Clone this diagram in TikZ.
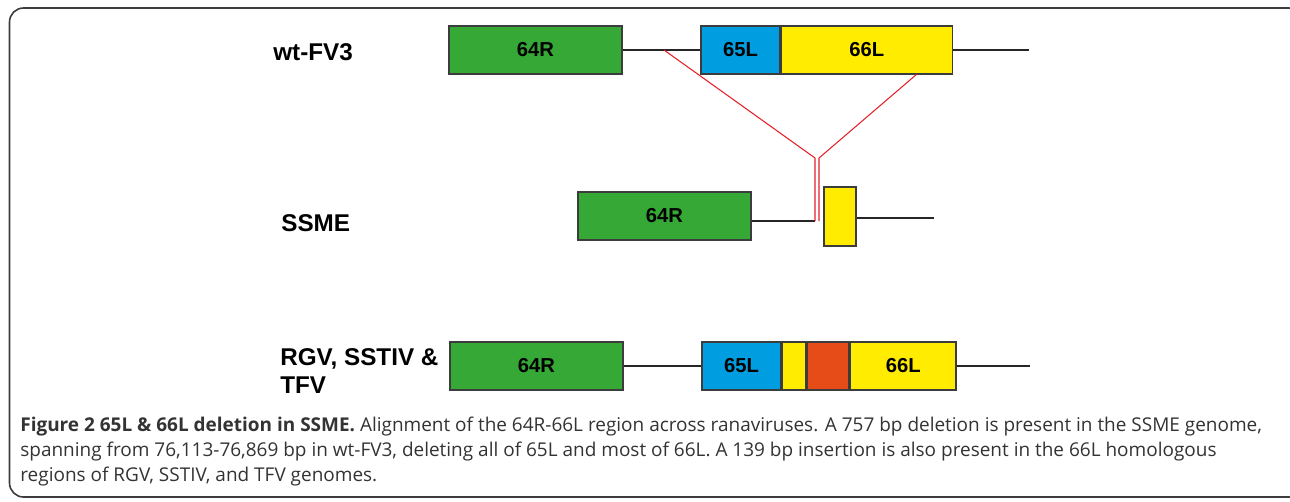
\documentclass[tikz,border=0pt]{standalone}
\usepackage{fontspec}
\setmainfont{Open Sans}
\newfontfamily\labelfont{Liberation Sans}
\usetikzlibrary{positioning}
\definecolor{genegreen}{RGB}{53,168,53}
\definecolor{geneblue}{RGB}{0,158,224}
\definecolor{geneyellow}{RGB}{255,236,0}
\definecolor{geneorange}{RGB}{230,76,24}
\definecolor{cutred}{RGB}{228,30,38}
\definecolor{edgegray}{RGB}{60,60,60}
\tikzset{
    gene/.style={draw=edgegray, line width=0.8pt, inner sep=0pt, minimum height=0.96cm,
        font=\labelfont\bfseries\fontsize{11.5}{13}\selectfont},
    strand/.style={draw=black!85, line width=0.7pt},
    cut/.style={draw=cutred, line width=0.6pt},
    rowlabel/.style={inner sep=0pt, anchor=base west,
        font=\labelfont\bfseries\fontsize{13.8}{15.9}\selectfont}
}

\begin{document}
\begin{tikzpicture}[x=0.02cm, y=-0.02cm]
        \useasboundingbox (0,0) rectangle (1290,501);
        % outer frame
        \draw[edgegray, line width=0.9pt, rounded corners=8pt] (9.5,8) rectangle (1303,497);
        % wt-FV3 row
        \node[rowlabel] (wtlab) at (273,60) {wt-FV3};
        \node[gene, fill=genegreen, minimum width=3.46cm] (wt64) at (535.5,50) {64R};
        \node[gene, fill=geneblue, minimum width=1.58cm] (wt65) at (740.5,50) {65L};
        \node[gene, fill=geneyellow, minimum width=3.42cm, right=0pt of wt65] (wt66) {66L};
        \coordinate (wtend) at (1029,50);
        \draw[strand] (wt64) -- (wt65);
        \draw[strand] (wt66) -- (wtend);
        % SSME row
        \node[rowlabel] (sslab) at (281,231) {SSME};
        \node[gene, fill=genegreen, minimum width=3.46cm] (ss64) at (664.5,216) {64R};
        \node[gene, fill=geneyellow, minimum width=0.64cm, minimum height=1.18cm] (ss66) at (840,216.5) {};
        \coordinate (footL) at (815,221);
        \coordinate (footR) at (819,221);
        \coordinate (ssend) at (934,218);
        \draw[strand] (ss64.east |- footL) -- (footL);
        \draw[strand] (ss66.east |- ssend) -- (ssend);
        % deleted region, 76,113-76,869 bp
        \coordinate (cutA) at (664,50);
        \coordinate (cutB) at (917,74);
        \coordinate (joinL) at (815,158);
        \coordinate (joinR) at (819,158);
        \draw[cut] (cutA) -- (joinL) -- (footL);
        \draw[cut] (cutB) -- (joinR) -- (footR);
        % RGV, SSTIV & TFV row (base = last line)
        \node[rowlabel, align=left] (rglab) at (280,393) {RGV, SSTIV \&\\TFV};
        \node[gene, fill=genegreen, minimum width=3.46cm] (rg64) at (536.5,366) {64R};
        \node[gene, fill=geneblue, minimum width=1.58cm] (rg65) at (741.5,366) {65L};
        \node[gene, fill=geneyellow, minimum width=0.46cm, right=0pt of rg65] (rgpre) {};
        \node[gene, fill=geneorange, minimum width=0.84cm, right=0pt of rgpre] (rgins) {};
        \node[gene, fill=geneyellow, minimum width=2.12cm, right=0pt of rgins] (rg66) {66L};
        \coordinate (rgend) at (1030,366);
        \draw[strand] (rg64) -- (rg65);
        \draw[strand] (rg66) -- (rgend);
        % caption (base = last line)
        \node[anchor=base west, inner sep=0pt, align=left, text=black!80,
            font=\fontsize{10.8}{14.2}\selectfont] (caption) at (20,481)
            {\textbf{Figure 2 65L \& 66L deletion in SSME.} Alignment of the 64R-66L region across ranaviruses. A 757 bp deletion is present in the SSME genome,\\
            spanning from 76,113-76,869 bp in wt-FV3, deleting all of 65L and most of 66L. A 139 bp insertion is also present in the 66L homologous\\
            regions of RGV, SSTIV, and TFV genomes.};
\end{tikzpicture}
\end{document}
